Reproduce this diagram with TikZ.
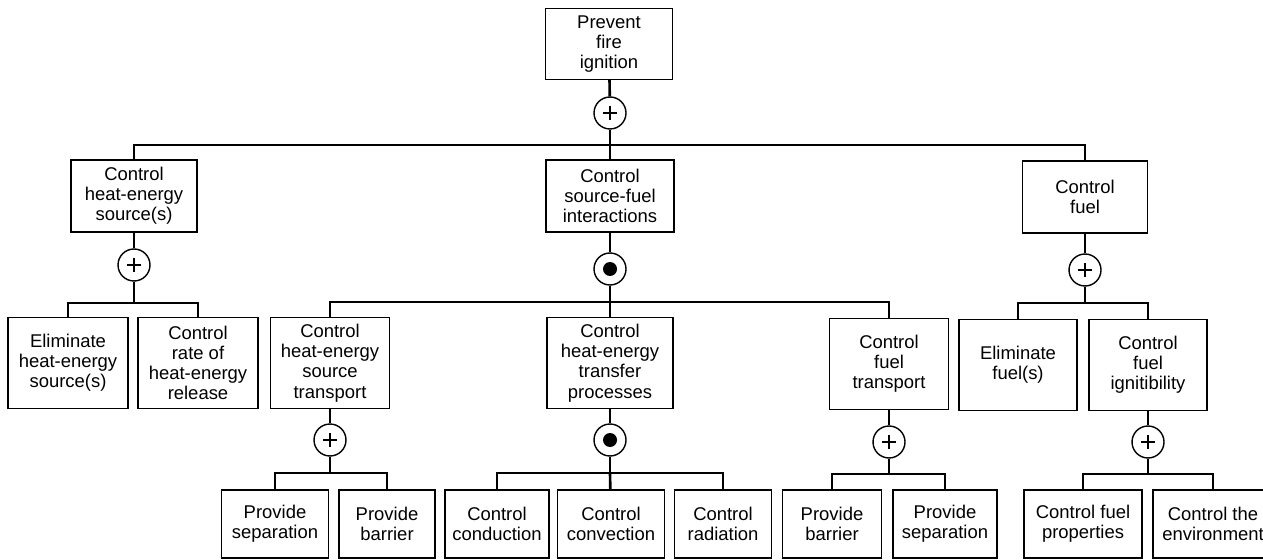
\documentclass[tikz,border=0pt]{standalone}
\usepackage{fontspec}
\setmainfont{Liberation Sans}
\usepackage{tikz}

\begin{document}
\begin{tikzpicture}[x=0.02cm, y=-0.02cm,
    box/.style={draw, line width=0.7pt, align=center, inner sep=1pt,
        font=\fontsize{10.5}{11.5}\selectfont},
    topbox/.style={box, minimum height=1.42cm},
    midbox/.style={box, minimum height=1.44cm},
    subbox/.style={box, minimum height=1.82cm},
    leafbox/.style={box, minimum height=1.36cm},
    link/.style={line width=1.5pt},
    gate/.style={circle, draw, fill=white, line width=0.8pt, minimum size=0.64cm, inner sep=0pt},
    orgate/.style={gate, path picture={
        \draw[black, line width=1.2pt] (path picture bounding box.center) +(-7,0) -- +(7,0)
            (path picture bounding box.center) +(0,-7) -- +(0,7);}},
    andgate/.style={gate, path picture={
        \fill[black] (path picture bounding box.center) circle (0.14cm);}}]
    \useasboundingbox (0,0) rectangle (1263,560);

    % Nodes
    \node[topbox, minimum width=2.54cm] (fire) at (609,44) {Prevent\\fire\\ignition};

    \node[midbox, minimum width=2.52cm] (heat) at (134,196) {Control\\heat-energy\\source(s)};
    \node[midbox, minimum width=2.56cm] (inter) at (610,196) {Control\\source-fuel\\interactions};
    \node[midbox, minimum width=2.5cm] (fuel) at (1085,197) {Control\\fuel};

    \node[subbox, minimum width=2.4cm] (elimheat) at (68,363) {Eliminate\\heat-energy\\source(s)};
    \node[subbox, minimum width=2.4cm] (rateheat) at (198,363) {Control\\rate of\\heat-energy\\release};
    \node[subbox, minimum width=2.38cm] (srctrans) at (330,363) {Control\\heat-energy\\source\\transport};
    \node[subbox, minimum width=2.52cm] (transfer) at (610,363) {Control\\heat-energy\\transfer\\processes};
    \node[subbox, minimum width=2.38cm] (fueltrans) at (889,364) {Control\\fuel\\transport};
    \node[subbox, minimum width=2.36cm] (elimfuel) at (1018,365) {Eliminate\\fuel(s)};
    \node[subbox, minimum width=2.36cm] (ignit) at (1148,365) {Control\\fuel\\ignitibility};

    \node[leafbox, minimum width=2.14cm] (sepa) at (275,524) {Provide\\separation};
    \node[leafbox, minimum width=1.92cm] (barra) at (387,524) {Provide\\barrier};
    \node[leafbox, minimum width=2.08cm] (cond) at (497,524) {Control\\conduction};
    \node[leafbox, minimum width=2.14cm] (conv) at (611,524) {Control\\convection};
    \node[leafbox, minimum width=1.94cm] (rad) at (723,524) {Control\\radiation};
    \node[leafbox, minimum width=1.98cm] (barrb) at (832,524) {Provide\\barrier};
    \node[leafbox, minimum width=2.08cm] (sepb) at (945,524) {Provide\\separation};
    \node[leafbox, minimum width=2.36cm] (props) at (1083,524) {Control fuel\\properties};
    \node[leafbox, minimum width=2.4cm] (env) at (1213,524) {Control the\\environment};

    % Gates
    \node[orgate] (g0) at (610,113) {};
    \node[orgate] (g1) at (134,265) {};
    \node[andgate] (g2) at (610,269) {};
    \node[orgate] (g3) at (1085,270) {};
    \node[orgate] (g4) at (330,440) {};
    \node[andgate] (g5) at (610,440) {};
    \node[orgate] (g6) at (889,442) {};
    \node[orgate] (g7) at (1148,442) {};

    % Bar points
    \coordinate (b0) at (610,145);
    \coordinate (b1) at (134,303);
    \coordinate (b2) at (610,302);
    \coordinate (b3) at (1085,303);
    \coordinate (b4) at (330,473);
    \coordinate (b5) at (610,473);
    \coordinate (b6) at (889,474);
    \coordinate (b7) at (1148,474);

    % Edges
    \draw[link] (fire) -- (g0);
    \draw[link] (g0) -- (b0);
    \draw[link] (b0) -| (heat);
    \draw[link] (b0) -- (inter);
    \draw[link] (b0) -| (fuel);

    \draw[link] (heat) -- (g1);
    \draw[link] (g1) -- (b1);
    \draw[link] (b1) -| (elimheat);
    \draw[link] (b1) -| (rateheat);

    \draw[link] (inter) -- (g2);
    \draw[link] (g2) -- (b2);
    \draw[link] (b2) -| (srctrans);
    \draw[link] (b2) -- (transfer);
    \draw[link] (b2) -| (fueltrans);

    \draw[link] (fuel) -- (g3);
    \draw[link] (g3) -- (b3);
    \draw[link] (b3) -| (elimfuel);
    \draw[link] (b3) -| (ignit);

    \draw[link] (srctrans) -- (g4);
    \draw[link] (g4) -- (b4);
    \draw[link] (b4) -| (sepa);
    \draw[link] (b4) -| (barra);

    \draw[link] (transfer) -- (g5);
    \draw[link] (g5) -- (b5);
    \draw[link] (b5) -| (cond);
    \draw[link] (b5) -- (conv);
    \draw[link] (b5) -| (rad);

    \draw[link] (fueltrans) -- (g6);
    \draw[link] (g6) -- (b6);
    \draw[link] (b6) -| (barrb);
    \draw[link] (b6) -| (sepb);

    \draw[link] (ignit) -- (g7);
    \draw[link] (g7) -- (b7);
    \draw[link] (b7) -| (props);
    \draw[link] (b7) -| (env);
\end{tikzpicture}
\end{document}
